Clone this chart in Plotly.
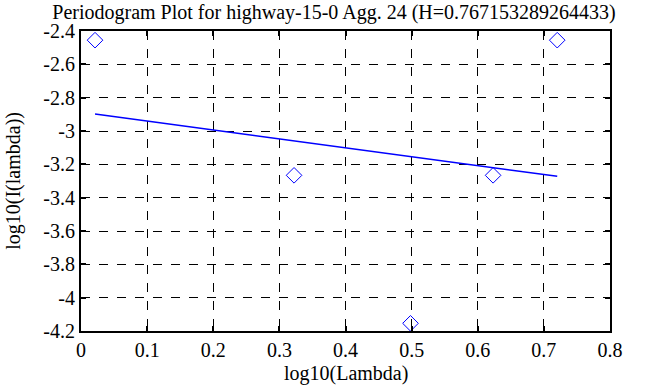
import plotly.graph_objects as go

# Data
log_lambda = [0.0212, 0.3222, 0.4983, 0.6232, 0.7202]
log_I = [-2.455, -3.266, -4.154, -3.266, -2.455]

H = 0.767153289264433
fit_slope = 1 - 2 * H
fit_intercept = -2.887
fit_x = [log_lambda[0], log_lambda[-1]]

x_ticks = [0, 0.1, 0.2, 0.3, 0.4, 0.5, 0.6, 0.7, 0.8]
x_tick_labels = ["0", "0.1", "0.2", "0.3", "0.4", "0.5", "0.6", "0.7", "0.8"]
y_ticks = [-2.4, -2.6, -2.8, -3.0, -3.2, -3.4, -3.6, -3.8, -4.0, -4.2]
y_tick_labels = ["-2.4", "-2.6", "-2.8", "-3", "-3.2", "-3.4", "-3.6", "-3.8", "-4", "-4.2"]

fit_y = [fit_intercept + fit_slope * x for x in fit_x]

font = "Liberation Serif, Times New Roman, serif"
fs = 20

fig = go.Figure()
fig.add_trace(go.Scatter(
    x=log_lambda, y=log_I, mode="markers",
    marker=dict(symbol="diamond-open", size=12, color="#0000ff", line=dict(width=1, color="#0000ff")),
    showlegend=False, cliponaxis=False,
))
fig.add_trace(go.Scatter(
    x=fit_x, y=fit_y, mode="lines",
    line=dict(color="#0000ff", width=1.5),
    showlegend=False,
))

axis_common = dict(
    showline=True, linecolor="black", linewidth=2, mirror="ticks",
    ticks="inside", ticklen=5, tickwidth=2, tickcolor="black",
    showgrid=True, gridcolor="black", gridwidth=1, griddash="dash",
    zeroline=False, automargin=False,
    tickfont=dict(family=font, size=fs, color="black"),
)

fig.update_layout(
    width=668, height=387,
    margin=dict(l=81, r=58, t=31, b=56, autoexpand=False),
    paper_bgcolor="white", plot_bgcolor="white",
    font=dict(family=font, size=fs, color="black"),
    title=dict(text="Periodogram Plot for highway-15-0 Agg. 24 (H=0.767153289264433)",
               x=0.5, xanchor="center", y=0.988, yanchor="top",
               font=dict(family=font, size=fs, color="black")),
    xaxis=dict(range=[0, 0.8], tickvals=x_ticks, ticktext=x_tick_labels, **axis_common),
    yaxis=dict(range=[-4.2, -2.4], tickvals=y_ticks, ticktext=y_tick_labels, **axis_common),
    annotations=[
        dict(text="log10(Lambda)", xref="paper", yref="paper", x=0.501, y=-0.143,
             xanchor="center", yanchor="middle", showarrow=False,
             font=dict(family=font, size=fs, color="black")),
        dict(text="log10(I(lambda))", xref="paper", yref="paper", x=-0.129, y=0.5,
             xanchor="center", yanchor="middle", textangle=-90, showarrow=False,
             font=dict(family=font, size=fs, color="black")),
    ],
)

fig.write_html("out.html", config={"displayModeBar": False},
               post_script="document.body.style.margin='0';document.body.style.overflow='hidden';")
